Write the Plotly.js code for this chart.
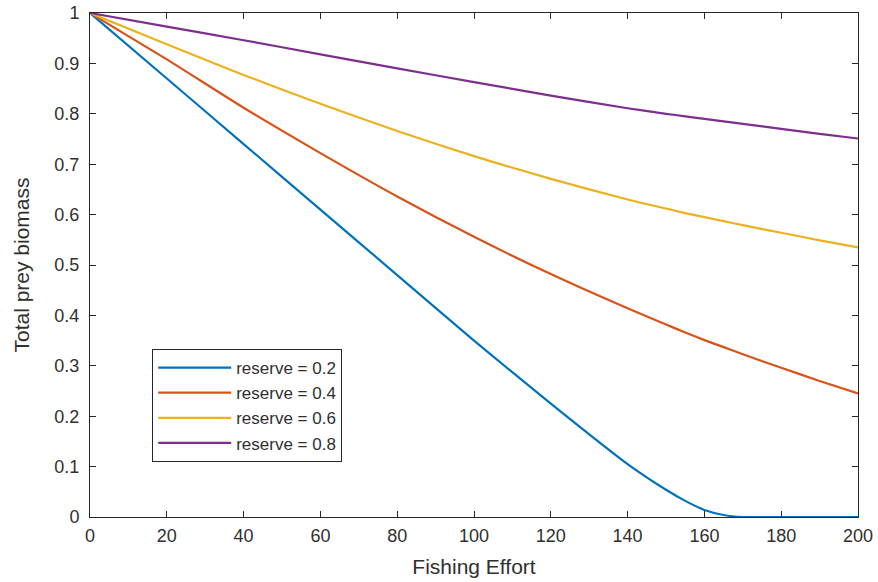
<!DOCTYPE html>
<html>
<head>
<meta charset="utf-8">
<script src="https://cdn.plot.ly/plotly-3.0.1.min.js"></script>
<style>html,body{margin:0;padding:0;background:#fff;}#chart{width:878px;height:582px;}</style>
</head>
<body>
<div id="chart"></div>
<script>
// Fishing effort sample points
const effort = [0, 20, 40, 60, 80, 100, 120, 140, 150, 155, 160, 165, 170, 180, 190, 200];
// Total prey biomass for each reserve fraction
const reserve02 = [1, 0.87, 0.74, 0.61, 0.48, 0.35, 0.225, 0.105, 0.054, 0.032, 0.014, 0.004, 0, 0, 0, 0];
const reserve04 = [1, 0.908, 0.812, 0.722, 0.636, 0.556, 0.482, 0.414, 0.382, 0.366, 0.351, 0.337, 0.323, 0.296, 0.27, 0.245];
const reserve06 = [1, 0.938, 0.877, 0.82, 0.766, 0.716, 0.671, 0.63, 0.612, 0.603, 0.595, 0.587, 0.579, 0.564, 0.549, 0.535];
const reserve08 = [1, 0.973, 0.946, 0.918, 0.89, 0.863, 0.836, 0.811, 0.8, 0.795, 0.79, 0.785, 0.78, 0.77, 0.76, 0.751];
const seriesNames = ["reserve = 0.2", "reserve = 0.4", "reserve = 0.6", "reserve = 0.8"];
const seriesColors = ["#0072BD", "#D95319", "#EDB120", "#7E2F8E"];
const seriesValues = [reserve02, reserve04, reserve06, reserve08];

const traces = seriesValues.map((v, i) => ({
  x: effort, y: v, type: "scatter", mode: "lines", name: seriesNames[i],
  legendgroup: "g" + i,
  line: {color: seriesColors[i], width: 2.2, shape: "spline", smoothing: 0.6}
}));

const fam = "Liberation Sans, Arial, sans-serif";
const axisCommon = {
  showgrid: false, zeroline: false, showline: true, linecolor: "#262626", linewidth: 1,
  mirror: "ticks", ticks: "inside", ticklen: 6, tickcolor: "#262626",
  automargin: false,
  tickfont: {family: fam, size: 18, color: "#303030"}
};

const layout = {
  width: 878, height: 582,
  margin: {l: 90, r: 20, t: 13, b: 65},
  paper_bgcolor: "#fff", plot_bgcolor: "#fff",
  font: {family: fam, color: "#262626"},
  xaxis: Object.assign({}, axisCommon, {range: [0, 200], dtick: 20, tick0: 0,
    ticklabelstandoff: 2,
    title: {text: "Fishing Effort", font: {size: 21, color: "#303030"}, standoff: 14}}),
  yaxis: Object.assign({}, axisCommon, {range: [0, 1], dtick: 0.1, tick0: 0,
    ticklabelstandoff: 6,
    title: {text: "Total prey biomass", font: {size: 21, color: "#303030"}, standoff: 19}}),
  showlegend: true,
  legend: {x: 0.081, y: 0.109, xanchor: "left", yanchor: "bottom",
    bgcolor: "#fff", bordercolor: "#262626", borderwidth: 1,
    tracegroupgap: 0,
    font: {family: fam, size: 17, color: "#303030"}, itemwidth: 73}
};

Plotly.newPlot("chart", traces, layout, {displayModeBar: false, staticPlot: true});
</script>
</body>
</html>
